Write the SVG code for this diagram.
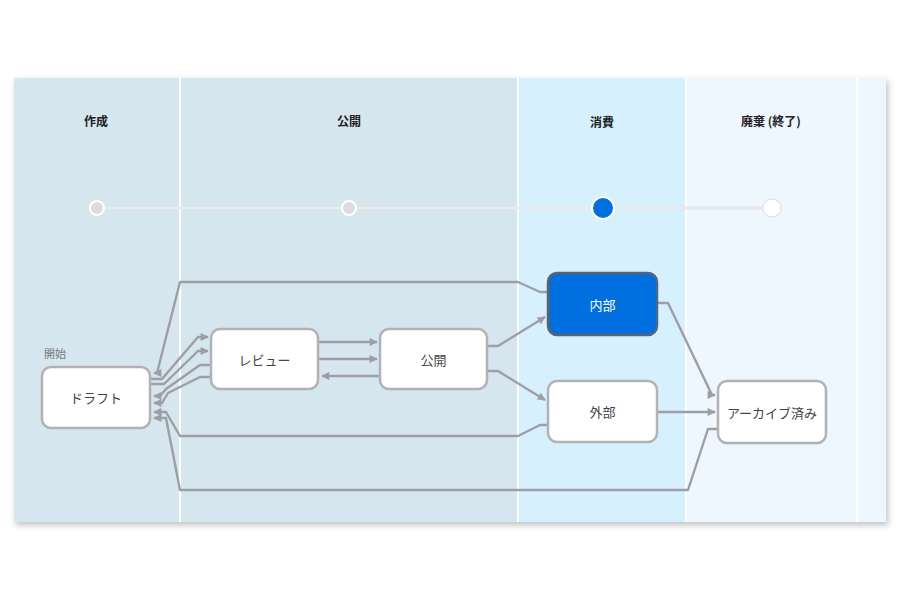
<svg xmlns="http://www.w3.org/2000/svg" width="900" height="600" viewBox="0 0 900 600">
<defs>
<filter id="sh" x="-5%" y="-5%" width="110%" height="115%">
<feDropShadow dx="2" dy="3" stdDeviation="3" flood-color="#000" flood-opacity="0.25"/>
</filter>
<marker id="arr" viewBox="0 0 10 10" refX="9" refY="5" markerWidth="3.6" markerHeight="3.4" orient="auto" markerUnits="strokeWidth">
<path d="M0,0 L10,5 L0,10 z" fill="#9e9ea6"/>
</marker>
<style>
.lane-title{font-family:"Noto Sans CJK JP","Noto Sans",sans-serif;font-size:12px;font-weight:bold;fill:#222;text-anchor:middle}
.node rect{fill:#fff;stroke:#b2b2b6;stroke-width:2.5}
.node text{font-family:"Noto Sans CJK JP","Noto Sans",sans-serif;font-size:13px;fill:#444;text-anchor:middle;dominant-baseline:central}
.edge{fill:none;stroke:#9e9ea6;stroke-width:2.4;stroke-linejoin:round}
.ar{marker-end:url(#arr)}
</style>
</defs>
<rect width="900" height="600" fill="#fff"/>
<g id="lanes" filter="url(#sh)">
<rect x="14" y="78" width="872" height="444" fill="#eef6fe"/>
<rect x="14" y="78" width="166" height="444" fill="#d5e6ef"/>
<rect x="181" y="78" width="337" height="444" fill="#d5e6ef"/>
<rect x="519" y="78" width="167" height="444" fill="#d6f1fd"/>
<rect x="687" y="78" width="170" height="444" fill="#eef6fe"/>
</g>
<g id="separators" stroke="#fff" stroke-width="2">
<line x1="180" y1="78" x2="180" y2="522"/>
<line x1="518" y1="78" x2="518" y2="522"/>
<line x1="686" y1="78" x2="686" y2="522"/>
<line x1="857" y1="78" x2="857" y2="522"/>
</g>
<g id="lane-titles">
<text class="lane-title" x="96" y="126">作成</text>
<text class="lane-title" x="349" y="126">公開</text>
<text class="lane-title" x="602" y="127">消費</text>
<text class="lane-title" x="771" y="126">廃棄 (終了)</text>
</g>
<g id="timeline">
<line x1="97" y1="208" x2="772" y2="208" stroke="#e0e1e5" stroke-width="3"/>
<line x1="97" y1="208" x2="772" y2="208" stroke="#f4f5f7" stroke-width="1"/>
<circle cx="97" cy="208" r="7" fill="#dcdbe0" stroke="#fff" stroke-width="2"/>
<circle cx="349" cy="208" r="7" fill="#dcdbe0" stroke="#fff" stroke-width="2"/>
<circle cx="603" cy="208" r="11" fill="#0070e0" stroke="#fff" stroke-width="2"/>
<circle cx="772" cy="208" r="9" fill="#fff" stroke="#dedede" stroke-width="1"/>
</g>
<g id="connectors">
<path class="edge ar" d="M548,292 H540 L518,282 H180 L157,373 H154"/>
<path class="edge ar" d="M151,379 H162 L198,337 H208"/>
<path class="edge ar" d="M151,384 H164 L198,351 H208"/>
<path class="edge ar" d="M211,365 H200 L166,389 L160,396 H154"/>
<path class="edge ar" d="M211,377 H200 L168,393 L162,403 H154"/>
<path class="edge ar" d="M548,425 H540 L518,436 H180 L166,412 H154"/>
<path class="edge ar" d="M718,429 H708 L688,490 H180 L166,418 H154"/>
<path class="edge ar" d="M319,342 H377"/>
<path class="edge ar" d="M319,359 H377"/>
<path class="edge ar" d="M380,376 H322"/>
<path class="edge ar" d="M488,346 H498 L545,317"/>
<path class="edge ar" d="M488,371 H498 L545,400"/>
<path class="edge ar" d="M657,303 H668 L712,395 H715"/>
<path class="edge ar" d="M657,412 H715"/>
</g>
<g id="node-draft" class="node">
<text x="44" y="358" style="font-size:11px;fill:#777;text-anchor:start;dominant-baseline:auto">開始</text>
<rect x="42" y="367" width="108" height="61" rx="9"/>
<text x="96" y="397.5">ドラフト</text>
</g>
<g id="node-review" class="node">
<rect x="211" y="329" width="107" height="60" rx="9"/>
<text x="264.5" y="359">レビュー</text>
</g>
<g id="node-publish" class="node">
<rect x="380" y="329" width="107" height="60" rx="9"/>
<text x="433.5" y="359">公開</text>
</g>
<g id="node-internal" class="node">
<rect x="548" y="273" width="109" height="62" rx="9" style="fill:#0070e0;stroke:#5a6470"/>
<text x="602.5" y="304" style="fill:#fff">内部</text>
</g>
<g id="node-external" class="node">
<rect x="548" y="381" width="109" height="61" rx="9"/>
<text x="602.5" y="411.5">外部</text>
</g>
<g id="node-archived" class="node">
<rect x="718" y="381" width="108" height="62" rx="9"/>
<text x="772" y="412">アーカイブ済み</text>
</g>
</svg>
